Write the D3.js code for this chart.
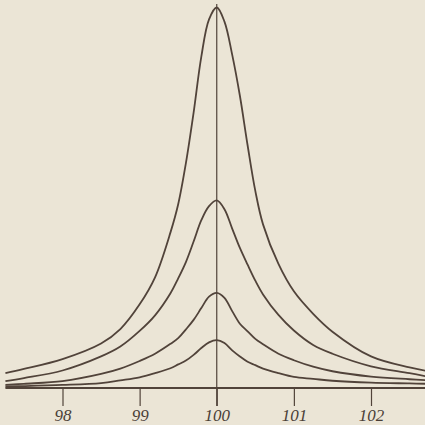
<!DOCTYPE html>
<meta charset="utf-8">
<style>
  html, body { margin: 0; padding: 0; background: #ebe5d6; }
  svg { display: block; }
  .tick text { font-family: "Liberation Serif", "DejaVu Serif", serif; font-style: italic; font-size: 17px; fill: #4a3e36; }
</style>
<body>
<div id="chart"></div>
<script src="https://d3js.org/d3.v7.min.js"></script>
<script>
  // x positions (frequency) shared by all four curves
  var freq = [97.26, 97.5, 98, 98.5, 98.75, 99, 99.2, 99.4, 99.5, 99.6, 99.7, 99.8, 99.9, 100,
              100.1, 100.2, 100.3, 100.4, 100.5, 100.6, 100.8, 101, 101.25, 101.5, 102, 102.5, 102.75];

  // amplitudes (tallest peak = 100)
  var curve1 = [3.9, 5.0, 7.6, 11.7, 15.5, 22.0, 29.1, 40.9, 48.3, 59.1, 72.4, 87.1, 96.9, 100,
                96.3, 87.6, 76.8, 63.8, 51.8, 43.0, 32.6, 25.4, 19.5, 14.8, 8.3, 5.4, 4.4];
  var curve2 = [1.8, 2.6, 4.6, 8.3, 10.9, 15.0, 19.1, 24.9, 28.8, 33.1, 38.5, 44.1, 47.8, 49.3,
                47.0, 41.9, 36.8, 32.4, 28.2, 24.6, 19.2, 15.1, 11.3, 9.0, 5.7, 3.9, 2.9];
  var curve3 = [0.8, 1.1, 1.8, 3.7, 5.1, 7.1, 9.0, 11.6, 13.1, 15.4, 17.9, 21.0, 24.0, 25.0,
                23.7, 20.2, 16.9, 14.9, 12.9, 11.5, 9.0, 7.3, 5.6, 4.4, 3.0, 2.3, 2.0];
  var curve4 = [0.4, 0.5, 0.8, 1.3, 2.0, 2.8, 3.9, 5.2, 6.2, 7.2, 8.7, 10.5, 12.0, 12.6,
                11.8, 9.9, 8.3, 6.9, 6.0, 5.1, 3.9, 2.9, 2.4, 1.9, 1.4, 1.2, 1.1];

  var tickVals = [98, 99, 100, 101, 102];
  var tickLabels = ["98", "99", "100", "101", "102"];

  var width = 425, height = 425;
  var ink = "#51433a";

  var x = d3.scaleLinear().domain([98, 102]).range([62.5, 371]);
  var y = d3.scaleLinear().domain([0, 100]).range([388, 7.5]);

  var svg = d3.select("#chart").append("svg")
    .attr("width", width)
    .attr("height", height);

  svg.append("rect")
    .attr("width", width)
    .attr("height", height)
    .attr("fill", "#ebe5d6");

  // base line
  svg.append("line")
    .attr("x1", x(97.26)).attr("x2", width)
    .attr("y1", y(0)).attr("y2", y(0))
    .attr("stroke", ink)
    .attr("stroke-width", 2.2);

  // axis ticks + labels
  var axis = svg.append("g")
    .attr("transform", "translate(0," + y(0) + ")")
    .call(d3.axisBottom(x)
      .tickValues(tickVals)
      .tickFormat(function(d, i) { return tickLabels[i]; })
      .tickSize(18)
      .tickSizeOuter(0));
  axis.select(".domain").remove();
  axis.selectAll(".tick line").attr("stroke", ink).attr("stroke-width", 1.2);
  axis.selectAll(".tick text").attr("y", 33).attr("dy", 0);

  // centre line at 100
  svg.append("line")
    .attr("x1", x(100)).attr("x2", x(100))
    .attr("y1", 4).attr("y2", y(0) + 18)
    .attr("stroke", ink)
    .attr("stroke-width", 1.2);

  var line = d3.line()
    .x(function(d) { return x(d[0]); })
    .y(function(d) { return y(d[1]); })
    .curve(d3.curveCatmullRom.alpha(0.5));

  [curve1, curve2, curve3, curve4].forEach(function(c) {
    svg.append("path")
      .datum(freq.map(function(f, i) { return [f, c[i]]; }))
      .attr("fill", "none")
      .attr("stroke", ink)
      .attr("stroke-width", 1.8)
      .attr("d", line);
  });
</script>
</body>
